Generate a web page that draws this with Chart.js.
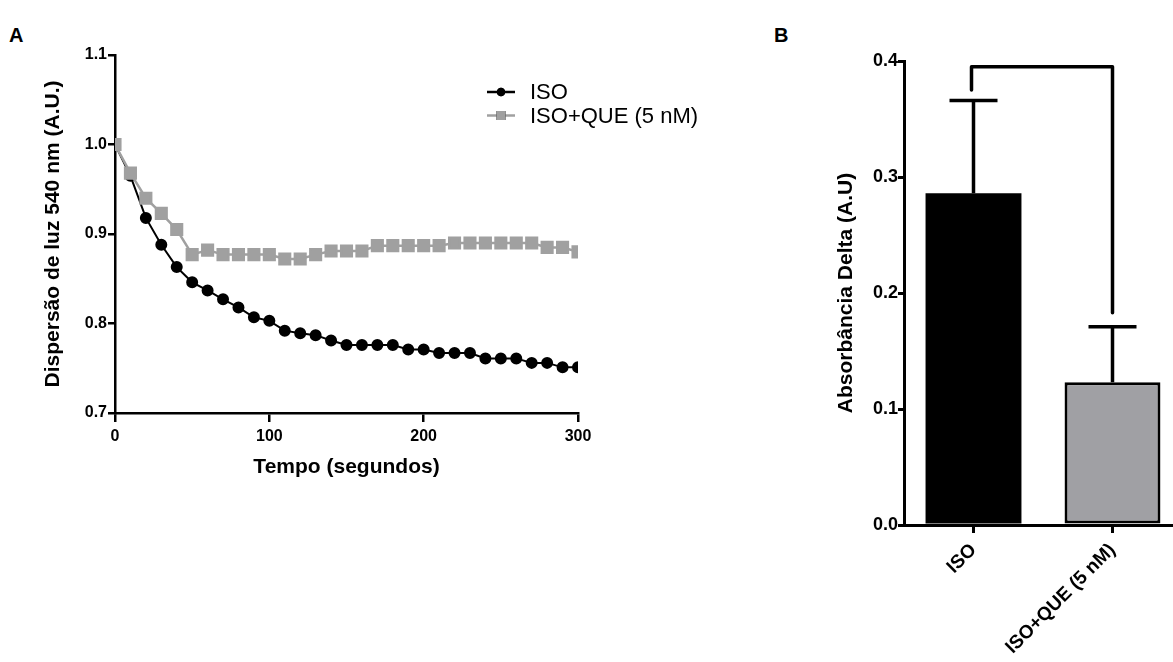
<!DOCTYPE html>
<html>
<head>
<meta charset="utf-8">
<script src="https://cdn.jsdelivr.net/npm/chart.js@4"></script>
<style>
  body { margin: 0; width: 1173px; height: 662px; overflow: hidden; background: #fff; position: relative; font-family: "Liberation Sans", Arial, sans-serif; }
  .panel { position: absolute; top: 0; }
  .letter { position: absolute; font-weight: bold; font-size: 20px; }
</style>
</head>
<body>
<div class="letter" style="left:9px;top:24px">A</div>
<div class="letter" style="left:774px;top:24px">B</div>
<div class="panel" style="left:0;width:760px;height:662px"><canvas id="lineChart"></canvas></div>
<div class="panel" style="left:760px;width:440px;height:662px"><canvas id="barChart"></canvas></div>
<script>
const time = [0, 10, 20, 30, 40, 50, 60, 70, 80, 90, 100, 110, 120, 130, 140, 150, 160, 170, 180, 190, 200, 210, 220, 230, 240, 250, 260, 270, 280, 290, 300];
const iso = [1.000, 0.965, 0.918, 0.888, 0.863, 0.846, 0.837, 0.827, 0.818, 0.807, 0.803, 0.792, 0.789, 0.787, 0.781, 0.776, 0.776, 0.776, 0.776, 0.771, 0.771, 0.767, 0.767, 0.767, 0.761, 0.761, 0.761, 0.756, 0.756, 0.751, 0.751];
const isoQue = [1.000, 0.968, 0.940, 0.923, 0.905, 0.877, 0.882, 0.877, 0.877, 0.877, 0.877, 0.872, 0.872, 0.877, 0.881, 0.881, 0.881, 0.887, 0.887, 0.887, 0.887, 0.887, 0.890, 0.890, 0.890, 0.890, 0.890, 0.890, 0.885, 0.885, 0.880];
const xTicks = [0, 100, 200, 300];
const yTicksA = [0.7, 0.8, 0.9, 1.0, 1.1];

const groups = ['ISO', 'ISO+QUE (5 nM)'];
const means = [0.286, 0.123];
const sem = [0.080, 0.048];
const yTicksB = [0.0, 0.1, 0.2, 0.3, 0.4];
const bracketTop = 0.395;
const bracketLegs = [0.375, 0.183];

const black = '#000';
const grey = '#a0a0a0';
const tickFontA = { family: 'Liberation Sans', size: 16, weight: 'bold' };
const tickFontB = { family: 'Liberation Sans', size: 18, weight: 'bold' };
const catFontB = { family: 'Liberation Sans', size: 19, weight: 'bold' };
const titleFont = { family: 'Liberation Sans', size: 21, weight: 'bold' };

Chart.defaults.animation = false;
Chart.defaults.color = '#000';

const pts = ys => time.map((t, i) => ({ x: t, y: ys[i] }));

// legend drawn by hand so it can show line + marker like the original
const lineLegend = {
    id: 'lineLegend',
    afterDraw(chart) {
        const ctx = chart.ctx;
        ctx.save();
        [0, 1].forEach(i => {
            const ds = chart.data.datasets[i];
            const y = 92 + i * 23.5;
            ctx.strokeStyle = ds.borderColor;
            ctx.lineWidth = 2.5;
            ctx.beginPath();
            ctx.moveTo(487, y);
            ctx.lineTo(515, y);
            ctx.stroke();
            Chart.helpers.drawPoint(ctx, {
                pointStyle: ds.pointStyle, radius: ds.pointRadius * 0.85, borderWidth: 0
            }, 501, y);
            ctx.fillStyle = ds.backgroundColor;
            ctx.fill();
            ctx.fillStyle = '#000';
            ctx.font = '22px "Liberation Sans"';
            ctx.textBaseline = 'middle';
            ctx.fillText(ds.label, 530, y + 1);
        });
        ctx.restore();
    }
};

new Chart(document.getElementById('lineChart'), {
    type: 'line',
    data: {
        datasets: [{
            label: 'ISO',
            data: pts(iso),
            borderColor: black,
            backgroundColor: black,
            borderWidth: 2,
            pointStyle: 'circle',
            pointRadius: 5,
            order: 1
        }, {
            label: 'ISO+QUE (5 nM)',
            data: pts(isoQue),
            borderColor: grey,
            backgroundColor: grey,
            borderWidth: 2.5,
            pointStyle: 'rect',
            pointRadius: 7.5,
            order: 0
        }]
    },
    options: {
        responsive: true,
        maintainAspectRatio: false,
        layout: { padding: { top: 55, right: 182, bottom: 182, left: 0 } },
        plugins: { legend: { display: false }, tooltip: { enabled: false } },
        scales: {
            x: {
                type: 'linear',
                min: 0,
                max: 300,
                afterBuildTicks: s => { s.ticks = xTicks.map(v => ({ value: v })); },
                afterFit: s => { s.height = 67; },
                ticks: { font: tickFontA, padding: 5 },
                grid: { drawOnChartArea: false, tickLength: 9, color: black, lineWidth: 2.5 },
                border: { color: black, width: 2.5 },
                title: { display: true, text: 'Tempo (segundos)', font: titleFont, padding: 0 }
            },
            y: {
                min: 0.7,
                max: 1.1,
                afterBuildTicks: s => { s.ticks = yTicksA.map(v => ({ value: v })); },
                afterFit: s => { s.width = 115; },
                ticks: { font: tickFontA, padding: 1, callback: v => v.toFixed(1) },
                grid: { drawOnChartArea: false, tickLength: 7, color: black, lineWidth: 2.5 },
                border: { color: black, width: 2.5 },
                title: { display: true, text: 'Dispersão de luz 540 nm (A.U.)', font: titleFont, padding: { top: 41, bottom: 0 } }
            }
        }
    },
    plugins: [lineLegend]
});

// error bars (upper only) and significance bracket
const barExtras = {
    id: 'barExtras',
    afterDatasetsDraw(chart) {
        const ctx = chart.ctx;
        const ys = chart.scales.y;
        const bars = chart.getDatasetMeta(0).data;
        ctx.save();
        ctx.strokeStyle = '#000';
        ctx.lineWidth = 3.5;
        ctx.lineCap = 'butt';
        bars.forEach((bar, i) => {
            const top = ys.getPixelForValue(means[i] + sem[i]);
            ctx.beginPath();
            ctx.moveTo(bar.x, bar.y);
            ctx.lineTo(bar.x, top);
            ctx.moveTo(bar.x - 24, top);
            ctx.lineTo(bar.x + 24, top);
            ctx.stroke();
        });
        const yb = ys.getPixelForValue(bracketTop);
        ctx.lineJoin = 'round';
        ctx.lineCap = 'round';
        ctx.beginPath();
        ctx.moveTo(bars[0].x - 2, ys.getPixelForValue(bracketLegs[0]));
        ctx.lineTo(bars[0].x - 2, yb);
        ctx.lineTo(bars[1].x, yb);
        ctx.lineTo(bars[1].x, ys.getPixelForValue(bracketLegs[1]));
        ctx.stroke();
        ctx.restore();
    }
};

new Chart(document.getElementById('barChart'), {
    type: 'bar',
    data: {
        labels: groups,
        datasets: [{
            data: means,
            backgroundColor: ['#000', '#a0a0a4'],
            borderColor: '#000',
            borderWidth: [0, 3],
            borderSkipped: false,
            categoryPercentage: 1,
            barPercentage: 0.69
        }]
    },
    options: {
        responsive: true,
        maintainAspectRatio: false,
        layout: { padding: { top: 61, right: 18, bottom: 0, left: 0 } },
        plugins: { legend: { display: false }, tooltip: { enabled: false } },
        scales: {
            x: {
                afterFit: s => { s.height = 137; },
                ticks: { font: catFontB, minRotation: 45, maxRotation: 45, padding: 6 },
                grid: { offset: false, drawOnChartArea: false, tickLength: 8, color: black, lineWidth: 3 },
                border: { color: black, width: 3 }
            },
            y: {
                min: 0,
                max: 0.4,
                afterBuildTicks: s => { s.ticks = yTicksB.map(v => ({ value: v })); },
                afterFit: s => { s.width = 144; },
                ticks: { font: tickFontB, padding: 0, callback: v => v.toFixed(1) },
                grid: { drawOnChartArea: false, tickLength: 6, color: black, lineWidth: 3 },
                border: { color: black, width: 3 },
                title: { display: true, text: 'Absorbância Delta (A.U)', font: titleFont, padding: { top: 74, bottom: 0 } }
            }
        }
    },
    plugins: [barExtras]
});
</script>
</body>
</html>
